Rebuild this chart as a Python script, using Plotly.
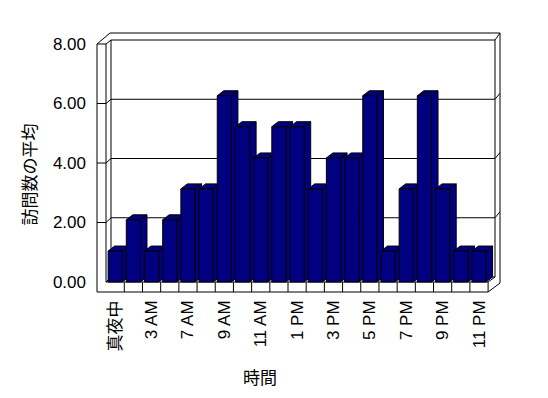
import plotly.graph_objects as go

# ---- data ----
hours = ["真夜中", "2 AM", "3 AM", "6 AM", "7 AM", "8 AM", "9 AM", "10 AM", "11 AM",
         "12 PM", "1 PM", "2 PM", "3 PM", "4 PM", "5 PM", "6 PM", "7 PM", "8 PM",
         "9 PM", "10 PM", "11 PM"]
visits = [1.04, 2.09, 1.04, 2.09, 3.13, 3.13, 6.26, 5.22, 4.17, 5.22, 5.22,
          3.13, 4.17, 4.17, 6.26, 1.04, 3.13, 6.26, 3.13, 1.04, 1.04]
y_tickvals = [0, 2, 4, 6, 8]
y_ticktext = ["0.00", "2.00", "4.00", "6.00", "8.00"]
x_title = "時間"
y_title = "訪問数の平均"

# ---- layout geometry (pixels) ----
W, H = 548, 398
PL, PR, PT, PB = 97, 500, 33, 292
CAT0_PX, CAT_STEP = 115.2, 18.19
Y0_PX, Y_STEP = 282, 29.75
x_range = [(PL - CAT0_PX) / CAT_STEP, (PR - CAT0_PX) / CAT_STEP]
y_range = [(Y0_PX - PB) / Y_STEP, (Y0_PX - PT) / Y_STEP]

NAVY = "#000080"
FONT = "Liberation Sans, Arial, Noto Sans CJK JP, sans-serif"
BAR_W = 0.78
DX = 6.5 / CAT_STEP   # bar depth (category units)
DY = 5.0 / Y_STEP     # bar depth (value units)


def pp(x, y):
    return (x - PL) / (PR - PL), (PB - y) / (PB - PT)


shapes = []


def line(x0, y0, x1, y1):
    a, b = pp(x0, y0)
    c, d = pp(x1, y1)
    shapes.append(dict(type="line", xref="paper", yref="paper", x0=a, y0=b, x1=c, y1=d,
                       line=dict(color="black", width=1), layer="below"))


# walls / floor frame
BW_L, BW_R, BW_T, BW_B = 111, 495, 40, 277
line(97, 44, 97, 292)
line(106, 44, 106, 282)
line(97, 44, 106, 44)
line(106, 44, BW_L, BW_T)
line(97, 44, 110, 33)
line(110, 33, 500, 33)
line(BW_R, BW_T, 500, 33)
line(500, 33, 500, 283)
line(BW_L, BW_T, BW_R, BW_T)
line(BW_L, BW_T, BW_L, BW_B)
line(BW_R, BW_T, BW_R, BW_B)
# gridlines on walls
for v in y_tickvals[1:-1]:
    yf = Y0_PX - v * Y_STEP
    yb = BW_B - v * (BW_B - BW_T) / 8
    line(97, yf, 106, yf)
    line(106, yf, BW_L, yb)
    line(BW_L, yb, BW_R, yb)
    line(BW_R, yb, 500, yb - 6)
# floor
FR = CAT0_PX + CAT_STEP * (len(hours) - 0.5)
line(BW_L, BW_B, BW_R, BW_B)
line(106, 282, FR, 282)
line(106, 282, BW_L, BW_B)
line(97, 292, FR, 292)
line(FR, 282, FR, 292)
line(FR, 282, BW_R, BW_B)
line(FR, 292, 500, 283)
for i in range(len(hours) - 1):
    xb = CAT0_PX + CAT_STEP * (i + 0.5)
    line(xb, 282, xb, 292)

# bar top / side faces (data coordinates)
idx = list(range(len(hours)))
for i, v in zip(idx, visits):
    x0, x1 = i - BAR_W / 2, i + BAR_W / 2
    side = f"M {x1},0 L {x1},{v} L {x1 + DX},{v + DY} L {x1 + DX},{DY} Z"
    top = f"M {x0},{v} L {x1},{v} L {x1 + DX},{v + DY} L {x0 + DX},{v + DY} Z"
    for p in (side, top):
        shapes.append(dict(type="path", xref="x", yref="y", path=p, fillcolor=NAVY,
                           line=dict(color="black", width=1), layer="below"))

fig = go.Figure(go.Bar(
    x=idx, y=visits, width=BAR_W,
    marker=dict(color=NAVY, line=dict(color="black", width=1)),
    hoverinfo="skip",
))

ax, ay = pp(27.5, 175)
bx, by = pp(260, 376)
fig.update_layout(
    width=W, height=H,
    margin=dict(l=PL, r=W - PR, t=PT, b=H - PB, pad=0),
    paper_bgcolor="white", plot_bgcolor="rgba(0,0,0,0)",
    showlegend=False,
    font=dict(family=FONT, size=17, color="black"),
    shapes=shapes,
    xaxis=dict(range=x_range, tickvals=idx[::2], ticktext=hours[::2], tickangle=-90,
               showgrid=False, zeroline=False, showline=False, ticks="",
               ticklabelstandoff=4,
               tickfont=dict(family=FONT, size=17, color="black")),
    yaxis=dict(range=y_range, tickvals=y_tickvals, ticktext=y_ticktext,
               showgrid=False, zeroline=False, showline=False, ticks="",
               ticklabelstandoff=10,
               tickfont=dict(family=FONT, size=17, color="black")),
    annotations=[
        dict(text=y_title, xref="paper", yref="paper", x=ax, y=ay, textangle=-90,
             showarrow=False, xanchor="center", yanchor="middle",
             font=dict(family="Noto Sans CJK JP", size=17, color="black")),
        dict(text=x_title, xref="paper", yref="paper", x=bx, y=by,
             showarrow=False, xanchor="center", yanchor="middle",
             font=dict(family="Noto Sans CJK JP", size=17, color="black")),
    ],
)
fig.write_html("out.html")
